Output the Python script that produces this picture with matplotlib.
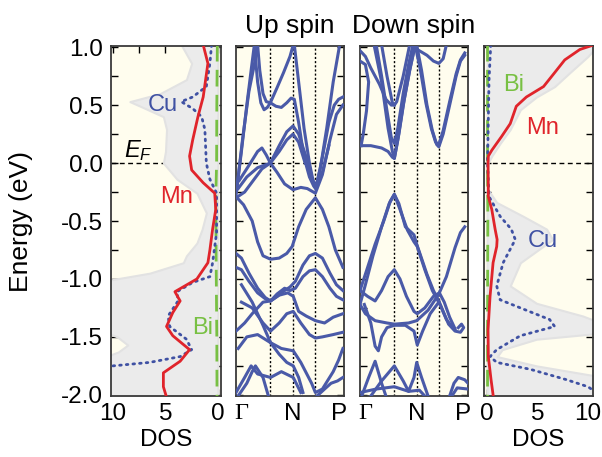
import numpy as np
import matplotlib
matplotlib.use("Agg")
import matplotlib.pyplot as plt

plt.rcParams['font.family'] = ['Liberation Sans', 'DejaVu Sans']
plt.rcParams['mathtext.fontset'] = 'custom'
plt.rcParams['mathtext.it'] = 'Liberation Sans:italic'
plt.rcParams['mathtext.rm'] = 'Liberation Sans'

BG = '#fffdee'
GREY = '#ebebeb'
RED = '#e0242b'
BLUE = '#3f51a3'
BAND = '#4a5aa8'
GREEN = '#78c043'

# ---------------- DOS data (energy in eV, DOS in states/eV) ----------------
# left panel (up spin)
mn_up_e = [1.02, 0.86, 0.57, 0.40, 0.20, 0.06, -0.06, -0.17, -0.26, -0.40, -0.57, -0.75, -0.86,
           -1.0, -1.11, -1.19, -1.29, -1.41, -1.49, -1.61, -1.71, -1.81, -1.93, -2.02]
mn_up_dos = [1.4, 0.95, 1.4, 1.9, 2.4, 2.7, 2.5, 1.4, 0.3, 0.2, 0.5, 0.76, 0.95,
             2.0, 4.1, 3.6, 4.3, 4.9, 4.3, 2.7, 3.6, 5.2, 5.2, 4.9]
cu_up_e = [1.02, 0.86, 0.66, 0.57, 0.53, 0.47, 0.40, 0.29, 0.0, -0.14, -0.26, -0.6, -0.86, -0.98,
           -1.03, -1.11, -1.19, -1.32, -1.41, -1.52, -1.61, -1.67, -1.72, -1.75, -1.85, -2.02]
cu_up_dos = [0.6, 0.76, 1.1, 2.4, 3.5, 2.4, 1.55, 1.24, 1.1, 0.76, 0.12, 0.12, 0.5, 0.76,
             2.4, 3.9, 3.8, 4.75, 4.6, 3.0, 2.5, 3.6, 6.5, 10.0, 13.0, 14.0]
bi_up_e = [1.02, 0.5, 0.0, -0.3, -1.0, -1.5, -2.02]
bi_up_dos = [0.05, 0.1, 0.12, 0.2, 0.15, 0.1, 0.08]
tot_up_e = [1.02, 0.86, 0.72, 0.60, 0.53, 0.49, 0.40, 0.29, 0.10, 0.0, -0.14, -0.26, -0.43,
            -0.57, -0.69, -0.80, -0.86, -0.95, -1.02, -1.45, -1.50, -1.57, -1.63, -1.68, -2.02]
tot_up_dos = [3.5, 2.5, 3.0, 5.5, 8.4, 7.4, 5.2, 4.9, 5.0, 5.2, 3.9, 2.0, 1.1,
              1.5, 2.0, 3.0, 3.3, 6.5, 11.0, 11.0, 9.6, 8.6, 9.5, 11.0, 12.0]

# right panel (down spin)
mn_dn_e = [1.02, 0.98, 0.89, 0.78, 0.66, 0.57, 0.49, 0.34, 0.23, 0.11, 0.06, 0.0, -0.29, -0.40,
           -0.57, -0.66, -0.72, -0.86, -1.15, -1.44, -1.67, -1.87, -2.0]
mn_dn_dos = [10.6, 9.2, 7.7, 6.7, 5.6, 3.9, 2.9, 2.3, 1.45, 0.47, 0.13, 0.1, 0.13, 0.47,
             0.8, 1.0, 0.96, 0.6, 0.3, 0.1, 0.13, 0.4, 0.6]
cu_dn_e = [1.02, 0.72, 0.0, -0.29, -0.46, -0.57, -0.66, -0.86, -1.06, -1.18, -1.26, -1.35, -1.41,
           -1.49, -1.61, -1.67, -1.72, -1.78, -1.87, -1.93, -2.02]
cu_dn_dos = [0.37, 0.2, 0.05, 0.2, 1.3, 2.4, 2.8, 1.6, 0.96, 1.3, 3.6, 6.2, 6.7,
             3.3, 0.96, 0.3, 0.96, 4.3, 7.9, 10.0, 11.5]
bi_dn_e = [1.02, 0.5, 0.0, -0.5, -1.0, -1.5, -2.02]
bi_dn_dos = [0.05, 0.05, 0.05, 0.08, 0.06, 0.05, 0.05]
tot_dn_e = [1.02, 0.92, 0.78, 0.66, 0.57, 0.46, 0.29, 0.17, 0.06, 0.0, -0.23, -0.34, -0.46,
            -0.57, -0.66, -0.86, -1.06, -1.21, -1.32, -1.37, -1.47, -1.52, -1.61, -1.67,
            -1.75, -1.84, -2.02]
tot_dn_dos = [11.0, 10.0, 8.2, 6.7, 4.9, 3.3, 2.3, 1.3, 0.47, 0.1, 0.1, 0.96, 3.6,
              5.9, 6.5, 3.3, 2.3, 4.9, 9.5, 11.0, 11.0, 4.9, 1.5, 1.0, 4.9, 11.0, 11.0]

# ---------------- band structure data (k along path, E in eV) ----------------
k_sym = [0.318, 0.528, 0.735]
k_ticks = [0.05, 0.53, 0.95]
k_labels = ['Γ', 'N', 'P']

bands_up = [
    [(0.0, -0.28), (0.05, 0.1), (0.10, 0.5), (0.14, 0.8), (0.17, 1.02)],
    [(0.01, -0.2), (0.06, 0.2), (0.12, 0.62), (0.17, 0.85), (0.20, 1.02)],
    [(0.17, 1.02), (0.2, 0.7), (0.23, 0.52), (0.26, 0.46), (0.29, 0.48), (0.318, 0.52),
     (0.38, 0.65), (0.44, 0.78), (0.50, 0.92), (0.53, 1.02)],
    [(0.20, 1.02), (0.22, 0.8), (0.25, 0.6), (0.28, 0.53), (0.318, 0.52), (0.37, 0.49),
     (0.42, 0.48), (0.47, 0.52), (0.51, 0.56), (0.54, 0.55), (0.58, 0.35), (0.63, 0.05),
     (0.68, -0.12), (0.72, -0.2), (0.74, -0.22), (0.80, 0.05), (0.86, 0.35), (0.91, 0.5),
     (0.95, 0.55), (0.99, 0.57)],
    [(0.54, 1.02), (0.58, 0.7), (0.63, 0.3), (0.68, 0.0), (0.72, -0.18), (0.735, -0.22),
     (0.78, -0.05), (0.84, 0.3), (0.90, 0.7), (0.96, 1.02)],
    [(0.0, -0.3), (0.08, -0.25), (0.16, -0.15), (0.24, -0.05), (0.318, 0.0), (0.38, -0.08),
     (0.45, -0.18), (0.528, -0.23), (0.6, -0.21), (0.66, -0.22), (0.735, -0.26), (0.8, -0.1),
     (0.87, 0.2), (0.93, 0.42), (0.99, 0.5)],
    [(0.02, -0.22), (0.1, -0.12), (0.2, -0.04), (0.318, 0.0), (0.4, 0.15), (0.47, 0.27),
     (0.528, 0.32), (0.58, 0.25), (0.65, 0.05), (0.7, -0.12), (0.735, -0.2), (0.8, -0.08),
     (0.86, 0.15)],
    [(0.03, -0.15), (0.12, -0.02), (0.2, 0.1), (0.24, 0.13), (0.28, 0.07), (0.318, 0.0),
     (0.4, 0.1), (0.47, 0.2), (0.528, 0.25), (0.58, 0.18), (0.64, 0.0)],
    [(0.0, -0.29), (0.07, -0.36), (0.15, -0.5), (0.2, -0.68), (0.25, -0.8), (0.32, -0.83),
     (0.4, -0.82), (0.47, -0.78), (0.52, -0.72), (0.58, -0.55), (0.65, -0.4), (0.735, -0.3),
     (0.8, -0.4), (0.86, -0.55), (0.92, -0.75), (0.99, -0.9)],
    [(0.0, -0.78), (0.05, -0.82), (0.12, -0.95), (0.2, -1.08), (0.27, -1.16), (0.32, -1.19),
     (0.38, -1.15), (0.45, -1.1), (0.5, -1.07), (0.55, -1.02), (0.62, -0.88), (0.68, -0.8),
     (0.735, -0.78), (0.8, -0.82), (0.87, -0.95), (0.93, -1.05), (0.99, -1.1)],
    [(0.0, -0.9), (0.05, -0.92), (0.12, -1.02), (0.2, -1.12), (0.27, -1.17), (0.32, -1.19),
     (0.38, -1.13), (0.45, -1.08), (0.5, -1.1), (0.55, -1.08), (0.62, -0.98), (0.68, -0.93),
     (0.735, -0.92), (0.8, -0.98), (0.87, -1.08), (0.93, -1.15), (0.99, -1.18)],
    [(0.0, -1.45), (0.08, -1.38), (0.15, -1.3), (0.25, -1.2), (0.32, -1.19), (0.4, -1.14),
     (0.48, -1.12), (0.53, -1.15), (0.58, -1.28), (0.65, -1.32), (0.735, -1.36), (0.82, -1.38),
     (0.9, -1.33), (0.99, -1.3)],
    [(0.05, -1.2), (0.15, -1.25), (0.25, -1.38), (0.32, -1.45), (0.4, -1.38), (0.47, -1.3),
     (0.53, -1.28), (0.6, -1.38), (0.68, -1.48), (0.735, -1.51), (0.8, -1.5), (0.9, -1.48),
     (0.99, -1.46)],
    [(0.05, -1.05), (0.15, -1.2), (0.25, -1.4), (0.32, -1.55), (0.4, -1.65), (0.47, -1.72),
     (0.53, -1.75), (0.58, -1.85), (0.62, -1.98)],
    [(0.02, -1.6), (0.1, -1.5), (0.2, -1.48), (0.32, -1.55), (0.42, -1.6), (0.53, -1.62),
     (0.6, -1.72), (0.7, -1.9), (0.735, -1.98), (0.8, -1.95), (0.9, -1.8), (0.95, -1.7),
     (0.99, -1.6)],
    [(0.0, -1.98), (0.08, -1.85), (0.14, -1.75), (0.2, -1.82), (0.32, -1.85), (0.42, -1.8),
     (0.53, -1.85), (0.6, -1.98)],
    [(0.02, -2.01), (0.1, -1.9), (0.15, -1.8), (0.18, -1.75), (0.25, -1.85), (0.3, -2.01)],
    [(0.75, -2.01), (0.82, -1.95), (0.88, -1.9), (0.94, -1.88), (0.99, -1.85)],
]

bands_dn = [
    [(0.0, 0.15), (0.1, 0.15), (0.2, 0.13), (0.26, 0.10), (0.3, 0.05), (0.318, 0.04),
     (0.36, 0.25), (0.41, 0.55), (0.46, 0.8), (0.5, 0.97), (0.525, 1.02)],
    [(0.13, 1.02), (0.2, 0.7), (0.26, 0.3), (0.3, 0.1), (0.318, 0.04), (0.35, 0.2),
     (0.4, 0.5), (0.46, 0.8), (0.51, 1.02)],
    [(0.15, 1.02), (0.2, 0.75), (0.25, 0.45), (0.29, 0.22), (0.318, 0.17), (0.35, 0.3),
     (0.40, 0.6), (0.45, 0.85), (0.49, 1.02)],
    [(0.2, 1.02), (0.25, 0.75), (0.3, 0.52), (0.318, 0.5), (0.34, 0.53), (0.4, 0.75),
     (0.46, 1.02)],
    [(0.0, 0.88), (0.05, 0.85), (0.08, 0.7), (0.06, 0.45), (0.03, 0.25), (0.01, 0.15)],
    [(0.0, 0.97), (0.05, 0.92), (0.1, 0.82), (0.18, 0.68), (0.24, 0.55), (0.29, 0.5),
     (0.318, 0.5)],
    [(0.525, 1.02), (0.57, 0.8), (0.62, 0.5), (0.67, 0.28), (0.71, 0.16), (0.73, 0.14),
     (0.77, 0.25), (0.83, 0.5), (0.89, 0.75), (0.93, 0.88), (0.97, 0.93)],
    [(0.51, 1.02), (0.56, 0.8), (0.61, 0.52), (0.66, 0.3), (0.7, 0.18), (0.73, 0.16),
     (0.77, 0.28), (0.83, 0.53), (0.89, 0.77), (0.93, 0.89), (0.97, 0.95)],
    [(0.53, 0.98), (0.62, 0.93), (0.68, 0.88), (0.73, 0.86), (0.77, 0.9), (0.80, 1.02)],
    [(0.0, -1.22), (0.05, -1.05), (0.12, -0.8), (0.2, -0.55), (0.27, -0.35), (0.318, -0.27),
     (0.36, -0.35), (0.42, -0.55), (0.5, -0.62), (0.525, -0.7), (0.58, -0.85), (0.62, -0.96),
     (0.68, -1.1), (0.73, -1.19), (0.82, -1.39), (0.88, -1.45), (0.93, -1.46), (0.96, -1.42),
     (0.94, -1.39), (0.91, -1.42)],
    [(0.0, -1.1), (0.06, -0.93), (0.14, -0.7), (0.22, -0.5), (0.28, -0.33), (0.318, -0.27),
     (0.37, -0.4), (0.44, -0.58), (0.5, -0.68), (0.53, -0.72), (0.6, -0.92), (0.67, -1.1),
     (0.74, -1.22), (0.8, -1.35), (0.86, -1.42)],
    [(0.0, -1.22), (0.05, -1.3), (0.14, -1.36), (0.25, -1.38), (0.32, -1.39), (0.45, -1.38),
     (0.525, -1.36), (0.63, -1.27), (0.73, -1.13), (0.8, -0.98), (0.88, -0.73), (0.93, -0.6),
     (0.97, -0.55)],
    [(0.0, -1.1), (0.07, -1.15), (0.14, -1.19), (0.2, -1.1), (0.26, -0.98), (0.318, -0.92),
     (0.37, -1.0), (0.43, -1.15), (0.5, -1.28), (0.53, -1.3), (0.6, -1.25), (0.68, -1.15),
     (0.735, -1.12), (0.78, -1.2), (0.83, -1.33), (0.88, -1.43)],
    [(0.04, -1.22), (0.1, -1.38), (0.14, -1.58), (0.17, -1.62), (0.2, -1.5), (0.25, -1.42),
     (0.318, -1.4), (0.42, -1.4), (0.5, -1.45), (0.53, -1.57), (0.58, -1.45), (0.65, -1.3),
     (0.73, -1.2)],
    [(0.02, -2.0), (0.08, -1.85), (0.14, -1.71), (0.2, -1.9), (0.24, -2.01)],
    [(0.1, -2.01), (0.2, -1.88), (0.318, -1.75), (0.4, -1.88), (0.45, -1.97), (0.5, -1.85),
     (0.525, -1.72), (0.57, -1.85), (0.63, -2.01)],
    [(0.0, -1.98), (0.15, -1.95), (0.318, -1.93), (0.45, -1.97), (0.55, -1.96), (0.6, -2.01)],
    [(0.83, -2.01), (0.87, -1.9), (0.91, -1.85), (0.97, -1.87), (1.0, -1.9)],
    [(0.85, -2.01), (0.9, -1.94), (1.0, -1.95)],
]

YLIM = (-2.01, 1.01)
yt = np.arange(-2.0, 1.01, 0.25)
ytl = ['%.1f' % v if abs(v * 2 - round(v * 2)) < 1e-6 else '' for v in yt]

fig = plt.figure(figsize=(6.02, 4.57), dpi=100)
bot, hgt = 1 - 396 / 457, 350 / 457
ax1 = fig.add_axes([111 / 602, bot, 110 / 602, hgt])
ax2 = fig.add_axes([236 / 602, bot, 108 / 602, hgt])
ax3 = fig.add_axes([360 / 602, bot, 108 / 602, hgt])
ax4 = fig.add_axes([484 / 602, bot, 109 / 602, hgt])

for ax in (ax1, ax2, ax3, ax4):
    ax.set_facecolor(BG)
    ax.set_ylim(*YLIM)
    ax.set_yticks(yt)
    ax.set_yticklabels([''] * len(yt))
    ax.tick_params(axis='y', direction='in', left=True, right=True, length=5, width=1)
    for s in ax.spines.values():
        s.set_color('#3a3a3a')
        s.set_linewidth(1.3)
    ax.axhline(0, color='black', ls=(0, (3.5, 2.5)), lw=1, zorder=1)

ax1.set_yticklabels(ytl, fontsize=17.5)
ax1.tick_params(axis='y', pad=6)
ax1.set_ylabel('Energy (eV)', fontsize=19)
ax1.yaxis.set_label_coords(-0.71, 0.5)

# DOS panels
for ax, tot_e, tot_d, mn_e, mn_d, cu_e, cu_d, bi_e, bi_d in (
        (ax1, tot_up_e, tot_up_dos, mn_up_e, mn_up_dos, cu_up_e, cu_up_dos, bi_up_e, bi_up_dos),
        (ax4, tot_dn_e, tot_dn_dos, mn_dn_e, mn_dn_dos, cu_dn_e, cu_dn_dos, bi_dn_e, bi_dn_dos)):
    ax.fill_betweenx(tot_e, 0, tot_d, color=GREY, ec='#e2e2e2', lw=1.5, zorder=2)
    ax.plot(bi_d, bi_e, color=GREEN, lw=2, ls=(0, (6, 3)), zorder=3)
    ax.plot(cu_d, cu_e, color=BLUE, lw=2, ls=(0, (0.6, 1.8)), dash_capstyle='round', zorder=4)
    ax.plot(mn_d, mn_e, color=RED, lw=2, zorder=5)
    ax.set_xticks([0, 2.5, 5, 7.5, 10])
    ax.set_xticklabels(['0', '', '5', '', '10'], fontsize=17.5)
    ax.tick_params(axis='x', direction='in', top=True, bottom=True, length=5, width=1, pad=5)
    ax.set_xlabel('DOS', fontsize=17.5)
    ax.xaxis.set_label_coords(0.5, -0.095)

ax1.set_xlim(10.2, -0.3)
ax4.set_xlim(-0.3, 10.5)

ax1.text(5.3, 0.5, 'Cu', color=BLUE, fontsize=17, ha='center', va='center', zorder=6)
ax1.text(7.6, 0.11, r'$E_F$', color='black', fontsize=17, ha='center', va='center', zorder=6)
ax1.text(3.9, -0.29, 'Mn', color=RED, fontsize=17, ha='center', va='center', zorder=6)
ax1.text(1.5, -1.42, 'Bi', color=GREEN, fontsize=17, ha='center', va='center', zorder=6)
ax4.text(2.6, 0.67, 'Bi', color=GREEN, fontsize=17, ha='center', va='center', zorder=6)
ax4.text(5.5, 0.3, 'Mn', color=RED, fontsize=17, ha='center', va='center', zorder=6)
ax4.text(5.5, -0.67, 'Cu', color=BLUE, fontsize=17, ha='center', va='center', zorder=6)

# band panels
for ax, bands, title in ((ax2, bands_up, 'Up spin'), (ax3, bands_dn, 'Down spin')):
    ax.set_xlim(0, 1)
    for k in k_sym:
        ax.axvline(k, color='black', ls=(0, (1.5, 1.5)), lw=1, zorder=1)
    for b in bands:
        kk, ee = zip(*b)
        ax.plot(kk, ee, color=BAND, lw=2.2, solid_joinstyle='round', zorder=3)
    ax.set_xticks(k_ticks)
    ax.set_xticklabels(k_labels, fontsize=17.5)
    ax.get_xticklabels()[0].set_family(['Liberation Serif', 'DejaVu Serif'])
    ax.tick_params(axis='x', length=0, pad=5)
    ax.set_title(title, fontsize=19, pad=9)

fig.savefig('out.png', dpi=100, facecolor='white')
